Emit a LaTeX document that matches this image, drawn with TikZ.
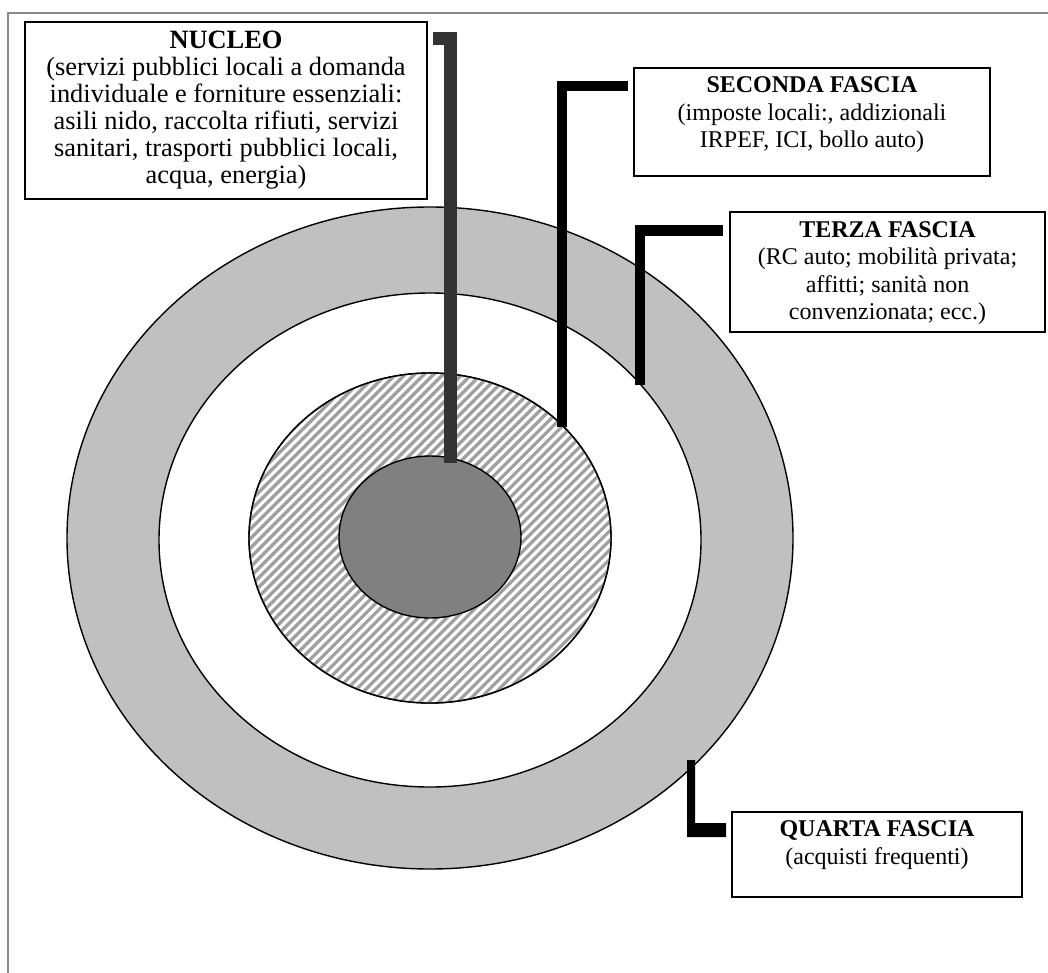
\documentclass[tikz,border=0pt]{standalone}
\usepackage{fontspec}
\setmainfont{Liberation Serif}
\usetikzlibrary{shapes.geometric}
\definecolor{silverband}{RGB}{192,192,192}
\definecolor{corefill}{RGB}{128,128,128}
\definecolor{darkconn}{RGB}{51,51,51}
\definecolor{framegray}{RGB}{136,136,136}
\definecolor{stripe}{RGB}{160,160,160}
\begin{document}
\begin{tikzpicture}[x=0.5pt,y=-0.5pt,
  ring/.style={draw=black, line width=0.7pt, ellipse, inner sep=0pt},
  box/.style={draw=black, line width=1pt, fill=white, inner sep=0pt},
  txt/.style={align=center, inner sep=0pt, font=\fontsize{12}{13.75}\selectfont},
  bigtxt/.style={align=center, inner sep=0pt, font=\fontsize{13.2}{13.5}\selectfont},
  conn/.style={line width=5pt, line join=miter, line cap=butt, draw=black},
  nconn/.style={line width=6.5pt, line join=miter, line cap=butt, draw=darkconn},
  framel/.style={draw=framegray, line width=1pt}]
\useasboundingbox (0,0) rectangle (1048,973);
% frame
\draw[framel] (1048,13) -- (8,13) -- (8,973);
% rings
\node[ring, fill=silverband, minimum width=363pt, minimum height=331pt] (outer) at (430,538) {};
\node[ring, fill=white, minimum width=271pt, minimum height=247pt] (second) at (430,540) {};
\node[ring, fill=white, minimum width=181pt, minimum height=165pt] (hatch) at (430,538) {};
\begin{scope}
  \clip (430,538) ellipse [x radius=90.5pt, y radius=82.5pt];
  \foreach \c in {580,589.5,...,1340} {
    \draw[stripe, line width=1.6pt] (\c-250,250) -- (\c-760,760);
  }
\end{scope}
\node[ring, minimum width=181pt, minimum height=165pt] (hatchline) at (430,538) {};
\node[ring, fill=corefill, minimum width=91pt, minimum height=81pt] (core) at (430,537) {};
% boxes
\node[box, minimum width=201pt, minimum height=88.5pt] (nucleo) at (226,110.5) {};
\node[bigtxt] (nucleotext) at (226,110) {\textbf{NUCLEO}\\(servizi pubblici locali a domanda\\individuale e forniture essenziali:\\asili nido, raccolta rifiuti, servizi\\sanitari, trasporti pubblici locali,\\acqua, energia)};
\node[box, minimum width=178pt, minimum height=54pt] (seconda) at (812,122) {};
\node[txt] (secondat) at (812,115) {\textbf{SECONDA FASCIA}\\(imposte locali:, addizionali\\IRPEF, ICI, bollo auto)};
\node[box, minimum width=157.5pt, minimum height=60pt] (terza) at (887.5,272) {};
\node[txt] (terzat) at (887.5,273) {\textbf{TERZA FASCIA}\\(RC auto; mobilità privata;\\affitti; sanità non\\convenzionata; ecc.)};
\node[box, minimum width=145pt, minimum height=42.5pt] (quarta) at (877,854.5) {};
\node[txt] (quartat) at (877,845) {\textbf{QUARTA FASCIA}\\(acquisti frequenti)};
% connectors
\coordinate (n1) at (433,38.5);
\coordinate (n2) at (450,38.5);
\coordinate (n3) at (450,463);
\draw[nconn] (n1) -- (n2) -- (n3);
\coordinate (s1) at (628,86);
\coordinate (s2) at (561.5,86);
\coordinate (s3) at (561.5,427);
\draw[conn] (s1) -- (s2) -- (s3);
\coordinate (t1) at (723,230.5);
\coordinate (t2) at (640,230.5);
\coordinate (t3) at (640,385);
\draw[conn] (t1) -- (t2) -- (t3);
\coordinate (q1) at (687,760);
\coordinate (q2) at (726,837);
\fill[black] (q1) -- (695,760) -- (695,823) -- (726,823) -- (q2) -- (687,837) -- cycle;
\end{tikzpicture}
\end{document}
